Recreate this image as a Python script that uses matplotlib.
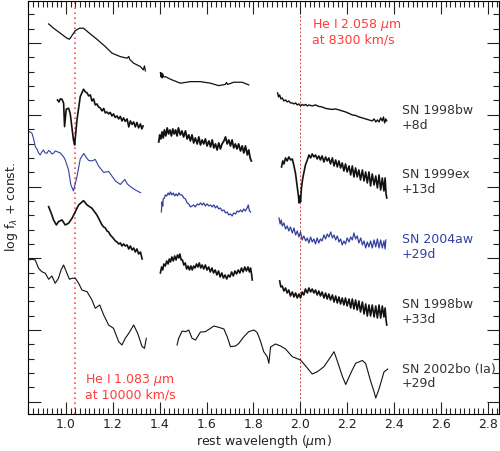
import matplotlib
matplotlib.use('Agg')
import matplotlib.pyplot as plt
from matplotlib.ticker import MultipleLocator

# log f_lambda + const (arbitrary offsets), wavelength in micron
# SN 1998bw +8d
bw8_j_wave = [0.926, 0.947, 0.976, 1.004, 1.015, 1.040, 1.058, 1.075, 1.097, 1.132, 1.168, 1.197, 1.232, 1.261, 1.268, 1.272, 1.289, 1.318, 1.330, 1.335, 1.339]
bw8_j_flux = [39.0, 38.57, 38.07, 37.57, 37.47, 38.33, 38.57, 38.57, 38.13, 37.47, 36.73, 36.07, 35.73, 35.57, 35.75, 35.45, 35.07, 34.73, 34.4, 34.8, 34.3]
bw8_h_wave = [1.403, 1.406, 1.408, 1.411, 1.413, 1.417, 1.424, 1.446, 1.488, 1.531, 1.574, 1.617, 1.652, 1.680, 1.685, 1.690, 1.716, 1.752, 1.780]
bw8_h_flux = [34.13, 33.7, 34.1, 33.6, 34.0, 33.7, 33.73, 33.47, 33.07, 33.23, 33.23, 33.07, 32.83, 32.95, 33.15, 32.95, 33.17, 33.17, 32.9]
bw8_k_wave = [1.903, 1.907, 1.912, 1.917, 1.923, 1.930, 1.937, 1.944, 1.951, 1.958, 1.966, 1.973, 1.980, 1.987, 1.994, 2.001, 2.008, 2.015,
              2.023, 2.030, 2.037, 2.051, 2.065, 2.079, 2.093, 2.108, 2.122, 2.137, 2.151, 2.165, 2.179, 2.193, 2.208, 2.222, 2.236,
              2.250, 2.265, 2.279, 2.293, 2.307, 2.315, 2.322, 2.329, 2.336, 2.343, 2.350, 2.355, 2.360, 2.365, 2.369]
bw8_k_flux = [32.1, 31.7, 31.9, 31.5, 31.6, 31.3, 31.4, 31.2, 31.3, 31.1, 31.1, 31.0, 31.1, 30.9, 31.0, 30.8, 30.95, 30.85,
              30.95, 30.8, 30.9, 30.8, 30.9, 30.75, 30.7, 30.55, 30.5, 30.45, 30.5, 30.4, 30.3, 30.2, 30.05, 29.9, 29.85,
              29.7, 29.6, 29.5, 29.4, 29.3, 29.5, 29.2, 29.4, 29.2, 29.6, 29.3, 29.7, 29.1, 29.5, 29.3]

# SN 1999ex +13d
ex_j_wave = [0.964, 0.970, 0.976, 0.983, 0.990, 0.994, 1.001, 1.011, 1.018, 1.032, 1.037, 1.047, 1.061, 1.075, 1.083,
             1.090, 1.097, 1.104, 1.111, 1.118, 1.125, 1.132, 1.139, 1.146, 1.154, 1.161, 1.168, 1.175, 1.182, 1.189, 1.196,
             1.203, 1.210, 1.218, 1.225, 1.232, 1.239, 1.246, 1.253, 1.261, 1.268, 1.275, 1.282, 1.289, 1.296, 1.303, 1.310,
             1.318, 1.324, 1.329]
ex_j_flux = [31.4, 31.2, 31.5, 31.47, 31.07, 28.73, 30.47, 30.57, 30.07, 27.4, 26.9, 29.4, 31.73, 32.47, 32.2,
             32.1, 31.8, 31.9, 31.3, 31.5, 30.9, 31.0, 30.7, 30.6, 30.3, 30.55, 30.1, 30.2, 30.0, 30.15, 29.8,
             30.0, 29.65, 29.8, 29.5, 29.75, 29.3, 29.6, 29.25, 29.5, 28.7, 29.3, 28.95, 29.2, 28.7, 29.15, 28.6,
             29.0, 28.5, 28.8]
ex_h_wave = [1.396, 1.400, 1.405, 1.410, 1.415, 1.420, 1.426, 1.432, 1.438, 1.444, 1.450, 1.456, 1.462, 1.468, 1.474, 1.480,
             1.488, 1.495, 1.502, 1.510, 1.517, 1.524, 1.531, 1.538, 1.545, 1.552, 1.560, 1.567, 1.574, 1.581, 1.588, 1.595,
             1.602, 1.610, 1.617, 1.624, 1.631, 1.638, 1.645, 1.652, 1.659, 1.666, 1.674, 1.681, 1.688, 1.695, 1.702, 1.709,
             1.716, 1.723, 1.730, 1.737, 1.745, 1.752, 1.759, 1.766, 1.774, 1.780, 1.786, 1.791]
ex_h_flux = [27.2, 27.9, 27.5, 28.2, 27.6, 28.4, 27.8, 28.6, 28.0, 28.4, 27.8, 28.5, 28.0, 28.4, 27.8, 28.6,
             27.9, 28.3, 27.7, 28.3, 27.5, 27.9, 27.3, 27.9, 27.1, 27.6, 27.0, 27.7, 26.9, 27.4, 27.0, 27.5,
             26.8, 27.3, 26.7, 27.4, 26.6, 27.0, 26.4, 27.1, 26.5, 27.0, 27.3, 27.7, 27.0, 27.4, 26.8, 27.4,
             26.6, 27.0, 26.5, 27.0, 26.3, 26.8, 26.1, 26.8, 25.9, 26.4, 25.6, 25.3]
ex_k_wave = [1.920, 1.925, 1.930, 1.937, 1.944, 1.951, 1.959, 1.966, 1.973, 1.980, 1.987, 1.992, 1.995, 1.998, 2.001, 2.005,
             2.010, 2.015, 2.022, 2.030, 2.037, 2.044, 2.051, 2.058, 2.065, 2.072, 2.079, 2.086, 2.093, 2.101, 2.108, 2.115,
             2.122, 2.129, 2.137, 2.144, 2.151, 2.158, 2.165, 2.172, 2.179, 2.186, 2.193, 2.200, 2.208, 2.215, 2.222, 2.229,
             2.236, 2.243, 2.250, 2.257, 2.265, 2.272, 2.279, 2.286, 2.293, 2.300, 2.307, 2.315, 2.322, 2.329, 2.336, 2.343,
             2.350, 2.357, 2.362, 2.366, 2.369]
ex_k_flux = [24.7, 25.3, 25.0, 25.6, 25.3, 25.7, 25.4, 25.5, 24.8, 24.0, 22.7, 21.8, 21.1, 21.8, 21.2, 22.6,
             23.5, 24.1, 24.9, 25.4, 25.9, 25.6, 26.0, 25.7, 25.9, 25.5, 25.8, 25.4, 25.8, 25.2, 25.7, 25.3,
             25.6, 25.0, 25.6, 24.8, 25.4, 24.7, 25.3, 24.6, 25.1, 24.3, 25.0, 24.2, 24.8, 23.9, 24.8, 23.7,
             24.6, 23.7, 24.4, 23.4, 24.4, 23.3, 24.2, 23.1, 24.2, 22.8, 24.0, 22.9, 23.8, 22.6, 23.9, 22.4,
             23.6, 22.3, 23.6, 22.0, 21.6]

# SN 2004aw +29d
aw_j_wave = [0.844, 0.855, 0.862, 0.869, 0.876, 0.883, 0.890, 0.897, 0.904, 0.911, 0.919, 0.926, 0.933, 0.940, 0.947, 0.954, 0.962, 0.976, 0.990, 0.997,
             1.011, 1.021, 1.032, 1.047, 1.061, 1.076, 1.088, 1.097, 1.111, 1.125, 1.139, 1.161, 1.182, 1.211, 1.232, 1.251, 1.262, 1.275, 1.296, 1.318]
aw_j_flux = [28.23, 28.07, 27.5, 26.73, 26.5, 26.1, 25.9, 26.2, 26.4, 26.1, 26.07, 26.35, 26.23, 26.0, 26.07, 26.3, 26.23, 26.1, 25.7, 25.4,
             24.4, 22.9, 22.3, 23.73, 25.5, 26.05, 25.6, 25.35, 25.3, 25.45, 24.8, 24.15, 24.25, 23.3, 22.95, 23.45, 23.0, 22.73, 22.4, 22.13]
aw_h_wave = [1.407, 1.410, 1.413, 1.415, 1.420, 1.424, 1.430, 1.436, 1.441, 1.446, 1.452, 1.458, 1.464, 1.470, 1.476, 1.482,
             1.488, 1.495, 1.503, 1.510, 1.517, 1.524, 1.531, 1.538, 1.545, 1.552, 1.560, 1.567, 1.574, 1.581, 1.588, 1.595,
             1.602, 1.610, 1.617, 1.624, 1.631, 1.638, 1.645, 1.652, 1.659, 1.666, 1.674, 1.681, 1.688, 1.695, 1.702, 1.709,
             1.716, 1.724, 1.731, 1.738, 1.745, 1.752, 1.759, 1.766, 1.773, 1.778, 1.783, 1.788]
aw_h_flux = [20.2, 21.2, 20.8, 21.5, 21.6, 21.9, 21.8, 22.1, 21.9, 22.2, 21.9, 22.1, 21.8, 22.0, 21.8, 22.1,
             21.9, 21.9, 21.6, 21.5, 21.1, 21.0, 20.7, 20.8, 20.9, 20.7, 21.0, 20.9, 21.1, 20.9, 21.1, 20.8,
             21.0, 20.8, 20.9, 20.7, 20.9, 20.6, 20.8, 20.5, 20.6, 20.3, 20.4, 20.1, 20.2, 19.9, 20.0, 19.8,
             20.1, 20.0, 20.3, 20.2, 20.4, 20.2, 20.5, 20.3, 20.6, 20.9, 20.3, 20.2]
aw_k_wave = [1.909, 1.914, 1.919, 1.923, 1.930, 1.937, 1.944, 1.951, 1.958, 1.966, 1.973, 1.980, 1.987, 1.994, 2.001, 2.008,
             2.015, 2.023, 2.030, 2.037, 2.044, 2.051, 2.058, 2.065, 2.072, 2.079, 2.086, 2.093, 2.101, 2.108, 2.115, 2.122,
             2.130, 2.137, 2.144, 2.151, 2.158, 2.165, 2.172, 2.179, 2.186, 2.193, 2.200, 2.208, 2.215, 2.222, 2.229, 2.236,
             2.243, 2.250, 2.258, 2.265, 2.272, 2.279, 2.286, 2.293, 2.300, 2.307, 2.315, 2.322, 2.329, 2.336, 2.343, 2.350,
             2.357, 2.362, 2.365]
aw_k_flux = [19.6, 19.0, 19.4, 18.8, 19.1, 18.5, 18.8, 18.3, 18.7, 18.1, 18.6, 17.9, 18.3, 17.7, 18.2, 17.4,
             17.8, 17.3, 17.6, 17.1, 17.7, 17.2, 17.5, 17.0, 17.6, 17.1, 17.5, 17.3, 17.9, 17.5, 18.0, 17.7,
             18.2, 17.6, 17.9, 17.4, 17.8, 17.2, 17.5, 16.9, 17.3, 17.0, 17.6, 17.2, 17.7, 17.4, 18.1, 17.5,
             17.8, 17.1, 17.6, 16.9, 17.3, 16.6, 17.2, 16.7, 17.3, 16.6, 17.4, 16.7, 17.5, 16.6, 17.4, 16.6,
             17.3, 16.5, 17.4]

# SN 1998bw +33d
bw33_j_wave = [0.926, 0.940, 0.947, 0.959, 0.968, 0.983, 0.997, 1.011, 1.026, 1.040, 1.054, 1.075, 1.090, 1.111, 1.132,
               1.154, 1.161, 1.168, 1.175, 1.182, 1.189, 1.197, 1.204, 1.211, 1.218, 1.225, 1.232, 1.239, 1.246, 1.253,
               1.261, 1.268, 1.275, 1.282, 1.289, 1.296, 1.303, 1.310, 1.318, 1.325]
bw33_j_flux = [20.73, 19.9, 19.4, 18.9, 19.23, 19.4, 18.9, 19.07, 19.57, 20.23, 20.9, 21.33, 20.9, 20.57, 19.9,
               18.9, 18.7, 18.6, 18.3, 18.2, 17.9, 17.7, 17.5, 17.3, 17.2, 17.0, 17.1, 16.8, 17.0, 16.8,
               16.9, 16.5, 16.8, 16.4, 16.6, 16.2, 16.5, 16.0, 16.2, 15.5]
bw33_h_wave = [1.403, 1.408, 1.413, 1.418, 1.424, 1.430, 1.436, 1.441, 1.446, 1.452, 1.458, 1.464, 1.470, 1.476, 1.482, 1.486,
               1.492, 1.497, 1.503, 1.509, 1.515, 1.521, 1.527, 1.533, 1.539, 1.545, 1.551, 1.557, 1.563, 1.569, 1.575, 1.581,
               1.588, 1.595, 1.602, 1.609, 1.616, 1.623, 1.630, 1.637, 1.644, 1.651, 1.658, 1.665, 1.672, 1.679, 1.686, 1.693,
               1.700, 1.707, 1.714, 1.721, 1.728, 1.735, 1.742, 1.749, 1.756, 1.763, 1.770, 1.777, 1.783, 1.788, 1.792, 1.795]
bw33_h_flux = [14.1, 14.7, 14.4, 15.0, 14.8, 15.3, 15.0, 15.5, 15.2, 15.7, 15.3, 15.8, 15.4, 15.9, 15.6, 16.0,
               15.4, 15.4, 14.9, 15.1, 14.5, 14.8, 14.4, 14.8, 14.4, 14.8, 14.6, 15.0, 14.7, 15.1, 14.6, 14.9,
               14.5, 14.9, 14.4, 14.7, 14.2, 14.6, 14.1, 14.4, 13.9, 14.3, 13.7, 14.1, 13.6, 13.9, 13.5, 13.9,
               13.7, 14.2, 13.8, 14.3, 14.0, 14.4, 14.1, 14.6, 14.2, 14.7, 14.3, 14.7, 14.2, 14.6, 14.0, 13.4]
bw33_k_wave = [1.912, 1.917, 1.923, 1.930, 1.937, 1.944, 1.951, 1.958, 1.966, 1.973, 1.980, 1.987, 1.994, 2.001, 2.008, 2.015,
               2.022, 2.030, 2.037, 2.044, 2.051, 2.058, 2.065, 2.072, 2.079, 2.086, 2.093, 2.101, 2.108, 2.115, 2.122, 2.129,
               2.137, 2.144, 2.151, 2.158, 2.165, 2.172, 2.179, 2.186, 2.193, 2.200, 2.208, 2.215, 2.222, 2.229, 2.236, 2.243,
               2.250, 2.257, 2.265, 2.272, 2.279, 2.286, 2.293, 2.300, 2.307, 2.315, 2.322, 2.329, 2.336, 2.343, 2.350, 2.357,
               2.362, 2.366, 2.369]
bw33_k_flux = [13.3, 12.7, 12.8, 12.3, 12.6, 12.1, 12.4, 11.8, 12.2, 11.7, 12.1, 11.6, 12.0, 11.6, 12.2, 11.9,
               12.5, 12.1, 12.6, 12.2, 12.5, 12.1, 12.4, 11.9, 12.3, 11.8, 12.2, 11.6, 12.1, 11.5, 12.0, 11.4,
               11.9, 11.2, 11.8, 11.1, 11.7, 11.0, 11.6, 10.9, 11.6, 10.8, 11.5, 10.6, 11.5, 10.5, 11.4, 10.4,
               11.3, 10.2, 11.2, 10.0, 11.0, 9.8, 10.9, 9.8, 10.9, 9.7, 10.8, 9.6, 10.9, 9.6, 10.8, 9.7,
               10.6, 9.4, 8.9]

# SN 2002bo (Ia) +29d
bo_j_wave = [0.840, 0.855, 0.869, 0.883, 0.897, 0.912, 0.926, 0.940, 0.954, 0.968, 0.979, 0.990, 1.004, 1.015, 1.026, 1.040, 1.054,
             1.068, 1.090, 1.111, 1.125, 1.144, 1.161, 1.182, 1.203, 1.225, 1.239, 1.253, 1.268, 1.289, 1.306, 1.325, 1.335, 1.343]
bo_j_flux = [15.4, 15.47, 15.4, 14.57, 14.23, 14.07, 13.47, 13.8, 13.07, 13.57, 14.4, 14.9, 14.07, 13.47, 13.57, 13.57, 13.07,
             12.4, 12.23, 11.4, 10.57, 10.9, 9.9, 8.9, 8.57, 7.23, 6.9, 7.57, 8.07, 8.9, 8.07, 6.73, 6.57, 7.57]
bo_hk_wave = [1.474, 1.481, 1.496, 1.510, 1.524, 1.538, 1.553, 1.574, 1.595, 1.617, 1.631, 1.652, 1.674, 1.688, 1.702, 1.724, 1.738,
              1.759, 1.780, 1.802, 1.816, 1.830, 1.844, 1.859, 1.866, 1.873, 1.894, 1.916, 1.937, 1.966, 2.001, 2.023, 2.051, 2.073,
              2.101, 2.130, 2.144, 2.158, 2.179, 2.194, 2.215, 2.236, 2.265, 2.279, 2.300, 2.314, 2.322, 2.336, 2.357, 2.373]
bo_hk_flux = [6.9, 7.57, 8.3, 8.23, 8.4, 7.57, 7.4, 8.2, 8.23, 8.57, 8.8, 8.67, 8.5, 7.73, 6.73, 6.8, 7.07,
              7.73, 8.23, 8.4, 8.15, 7.3, 6.23, 5.73, 5.07, 6.7, 7.0, 6.8, 6.5, 5.73, 5.4, 4.8, 4.0, 4.23,
              4.73, 5.73, 6.23, 5.3, 3.8, 2.95, 4.07, 5.07, 5.35, 5.05, 3.3, 2.3, 1.6, 2.5, 4.2, 4.5]

sn_names = ['SN 1998bw', 'SN 1999ex', 'SN 2004aw', 'SN 1998bw', 'SN 2002bo (Ia)']
sn_phases = ['+8d', '+13d', '+29d', '+33d', '+29d']
label_flux = [30.3, 23.9, 17.4, 10.9, 4.47]

he_lines = [1.04, 2.0]

black = '#111111'
blue = '#3340a0'
red = '#ff3b3b'

fig = plt.figure(figsize=(5.0, 4.51), dpi=100)
ax = fig.add_axes([0.056, 0.082, 0.942, 0.916])

# (wave, flux, colour, linewidth) for each band
segs = [
    (bw8_j_wave, bw8_j_flux, black, 0.9), (bw8_h_wave, bw8_h_flux, black, 0.9), (bw8_k_wave, bw8_k_flux, black, 1.0),
    (ex_j_wave, ex_j_flux, black, 1.2), (ex_h_wave, ex_h_flux, black, 1.3), (ex_k_wave, ex_k_flux, black, 1.2),
    (aw_j_wave, aw_j_flux, blue, 0.8), (aw_h_wave, aw_h_flux, blue, 0.9), (aw_k_wave, aw_k_flux, blue, 0.9),
    (bw33_j_wave, bw33_j_flux, black, 1.2), (bw33_h_wave, bw33_h_flux, black, 1.2), (bw33_k_wave, bw33_k_flux, black, 1.2),
    (bo_j_wave, bo_j_flux, black, 0.8), (bo_hk_wave, bo_hk_flux, black, 0.8),
]
for w, f, c, lw in segs:
    ax.plot(w, f, color=c, lw=lw)

ax.axvline(he_lines[0], color='#ff4d4d', ls=(0, (1, 2)), lw=1.2, zorder=0)
ax.axvline(he_lines[1], color='#c84848', ls=(0, (2, 2)), lw=0.7, zorder=0)

ax.text(2.05, 38.9, 'He I 2.058 $\\mu$m', color=red, fontsize=9, va='center')
ax.text(2.05, 37.4, 'at 8300 km/s', color=red, fontsize=9, va='center')
ax.text(1.083, 3.4, 'He I 1.083 $\\mu$m', color=red, fontsize=9, va='center')
ax.text(1.083, 1.9, 'at 10000 km/s', color=red, fontsize=9, va='center')

for name, ph, yv, c in zip(sn_names, sn_phases, label_flux, ['#333333', '#333333', blue, '#333333', '#333333']):
    ax.text(2.433, yv, name, color=c, fontsize=9, va='center')
    ax.text(2.433, yv - 1.45, ph, color=c, fontsize=9, va='center')

ax.set_xlim(0.838, 2.848)
ax.set_ylim(0, 41.3)
ax.xaxis.set_major_locator(MultipleLocator(0.2))
ax.xaxis.set_minor_locator(MultipleLocator(0.02))
ax.yaxis.set_major_locator(MultipleLocator(7.17, offset=1.23))
ax.yaxis.set_minor_locator(MultipleLocator(7.17 / 5, offset=1.23))
ax.tick_params(which='both', direction='in', top=True, right=True, labelleft=False, labelsize=9, colors='#222222', pad=3)
ax.tick_params(which='major', length=9, width=0.8)
ax.tick_params(which='minor', length=4.5, width=0.8)
for s in ax.spines.values():
    s.set_linewidth(0.8)

ax.set_xlabel('rest wavelength ($\\mu$m)', fontsize=9, color='#222222', labelpad=1)
ax.set_ylabel('log f$_\\lambda$ + const.', fontsize=9, color='#222222', labelpad=6)

fig.savefig('out.png', dpi=100)
